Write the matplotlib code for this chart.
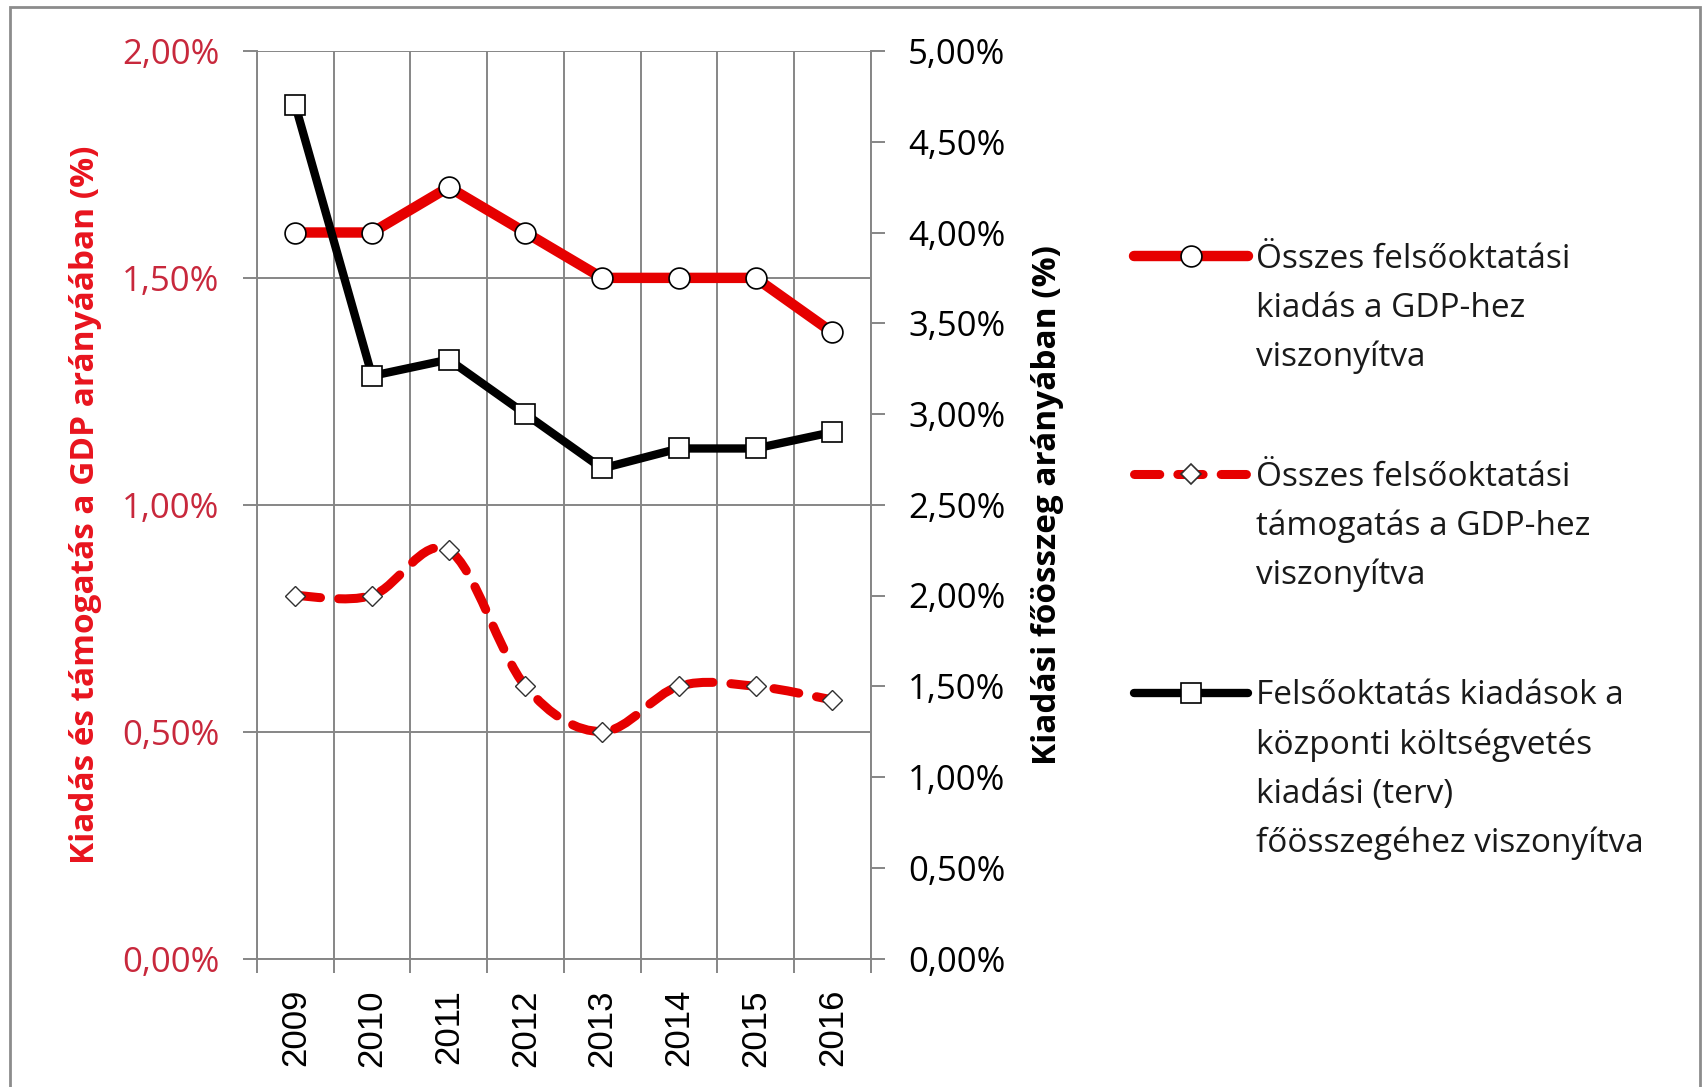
import numpy as np
import matplotlib.pyplot as plt
from matplotlib.path import Path
from matplotlib.patches import PathPatch, Rectangle
from matplotlib.lines import Line2D
from matplotlib.ticker import FixedLocator, FuncFormatter

years = ['2009', '2010', '2011', '2012', '2013', '2014', '2015', '2016']
kiadas_gdp = [1.60, 1.60, 1.70, 1.60, 1.50, 1.50, 1.50, 1.38]       # % (bal tengely)
tamogatas_gdp = [0.80, 0.80, 0.90, 0.60, 0.50, 0.60, 0.60, 0.57]    # % (bal tengely)
kiadas_fooszeg = [4.70, 3.21, 3.30, 3.00, 2.70, 2.81, 2.81, 2.90]   # % (jobb tengely)

left_ticks = [0.0, 0.5, 1.0, 1.5, 2.0]
right_ticks = [0.0, 0.5, 1.0, 1.5, 2.0, 2.5, 3.0, 3.5, 4.0, 4.5, 5.0]

legend_labels = [
    ['Összes felsőoktatási', 'kiadás a GDP-hez', 'viszonyítva'],
    ['Összes felsőoktatási', 'támogatás a GDP-hez', 'viszonyítva'],
    ['Felsőoktatás kiadások a', 'központi költségvetés', 'kiadási (terv)',
     'főösszegéhez viszonyítva'],
]

RED = '#e60000'
TICKRED = '#c8283c'
GRID = '#868686'
FONT = 'Open Sans'

plt.rcParams['font.family'] = [FONT, 'DejaVu Sans']

W, H = 1702, 1087
fig = plt.figure(figsize=(W / 100, H / 100), dpi=100)
ax1 = fig.add_axes([257 / W, 1 - 958.5 / H, (870.6 - 257) / W, (958.5 - 51) / H])
ax2 = ax1.twinx()

x = np.arange(len(years))


def pct(v, pos):
    return f'{v:.2f}%'.replace('.', ',')


def smooth_path(xs, ys):
    # Excel-like smoothed line (Catmull-Rom as cubic Bezier)
    pts = np.column_stack([xs, ys]).astype(float)
    n = len(pts)
    verts = [pts[0]]
    codes = [Path.MOVETO]
    for i in range(n - 1):
        p0 = pts[max(i - 1, 0)]
        p1 = pts[i]
        p2 = pts[i + 1]
        p3 = pts[min(i + 2, n - 1)]
        verts += [p1 + (p2 - p0) / 6, p2 - (p3 - p1) / 6, p2]
        codes += [Path.CURVE4] * 3
    return Path(verts, codes)


# left axis
ax1.set_xlim(-0.5, len(years) - 0.5)
ax1.set_ylim(0, 2.0)
ax1.yaxis.set_major_locator(FixedLocator(left_ticks))
ax1.yaxis.set_major_formatter(FuncFormatter(pct))
ax1.set_xticks(x)
ax1.set_xticklabels(years, rotation=90, family='Liberation Sans', fontsize=25)
ax1.xaxis.set_minor_locator(FixedLocator(np.arange(len(years) + 1) - 0.5))
ax1.grid(True, axis='y', color=GRID, lw=1.4)
ax1.grid(True, axis='x', which='minor', color=GRID, lw=1.4)
ax1.set_axisbelow(True)
ax1.tick_params(axis='x', which='major', length=0, pad=22)
ax1.tick_params(axis='x', which='minor', length=10, width=1.4, color=GRID)
ax1.tick_params(axis='y', length=10, width=1.4, color=GRID, labelcolor=TICKRED,
                labelsize=25, pad=17)
for s in ['top', 'right']:
    ax1.spines[s].set_visible(False)
for s in ['left', 'bottom']:
    ax1.spines[s].set_color(GRID)
    ax1.spines[s].set_linewidth(1.4)

ax1.add_patch(PathPatch(smooth_path(x, tamogatas_gdp), fill=False, ec=RED, lw=6.5,
                        linestyle=(0, (2.8, 2.0)), capstyle='round', zorder=3))
ax1.plot(x, tamogatas_gdp, ls='none', marker='D', ms=10, mfc='white', mec='#303030',
         mew=1.0, zorder=4)
ax1.plot(x, kiadas_gdp, color=RED, lw=7.5, marker='o', ms=15, mfc='white',
         mec='black', mew=1.2, zorder=4)

ax1.set_ylabel('Kiadás és támogatás a GDP arányáában (%)', color='#e8141e',
               fontsize=24, fontweight='bold')
ax1.yaxis.set_label_coords(-0.252, 0.5)

# right axis
ax2.set_ylim(0, 5.0)
ax2.yaxis.set_major_locator(FixedLocator(right_ticks))
ax2.yaxis.set_major_formatter(FuncFormatter(pct))
ax2.tick_params(axis='y', length=10, width=1.4, color=GRID, labelcolor='black',
                labelsize=25, pad=17)
for s in ['top', 'left', 'bottom']:
    ax2.spines[s].set_visible(False)
ax2.spines['right'].set_color(GRID)
ax2.spines['right'].set_linewidth(1.4)
ax2.plot(x, kiadas_fooszeg, color='black', lw=6, marker='s', ms=15, mfc='white',
         mec='black', mew=1.2, zorder=4)
ax2.set_ylabel('Kiadási főösszeg arányában (%)', color='black', fontsize=24,
               fontweight='bold')
ax2.yaxis.set_label_coords(1.262, 0.5)

# legend (drawn by hand so the key sits on the first text line)
handles = [
    dict(color=RED, lw=7.5, marker='o', ms=15, mec='black', ls='-'),
    dict(color=RED, lw=6.5, marker='D', ms=10, mec='#303030', ls=(0, (2.8, 2.0))),
    dict(color='black', lw=6, marker='s', ms=15, mec='black', ls='-'),
]
entry_y = [256, 474, 692.5]
x0, xm, x1, xt = 1134 / W, 1191 / W, 1248 / W, 1256 / W
line_step = 49
for style, y, lines in zip(handles, entry_y, legend_labels):
    yf = 1 - y / H
    h = Line2D([x0, xm, x1], [yf, yf, yf], transform=fig.transFigure,
               color=style['color'], lw=style['lw'], ls=style['ls'],
               marker=style['marker'], ms=style['ms'], mfc='white',
               mec=style['mec'], mew=1.2, markevery=[1],
               solid_capstyle='round', dash_capstyle='round')
    fig.add_artist(h)
    for k, txt in enumerate(lines):
        fig.text(xt, 1 - (y + k * line_step + 12) / H, txt, fontsize=24,
                 va='baseline', ha='left', color='#1a1a1a')

# outer frame
fig.add_artist(Rectangle((10 / W, -0.01), 1690 / W, 1 - 7 / H + 0.01,
                         transform=fig.transFigure, fill=False, ec='#8c8c8c', lw=2))

fig.savefig('out.png', dpi=100)
